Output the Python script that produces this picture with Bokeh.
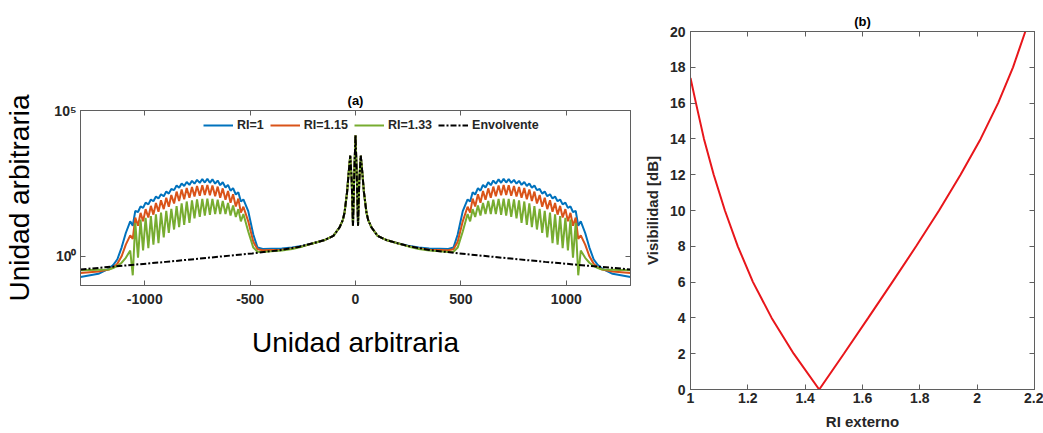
from bokeh.plotting import figure
from bokeh.layouts import row, column
from bokeh.models import Range1d, FixedTicker, LinearAxis, LogAxis, Legend, LegendItem
from bokeh.embed import file_html
from bokeh.resources import INLINE

# ---------------- panel (a) data ----------------
series_labels = ["RI=1", "RI=1.15", "RI=1.33", "Envolvente"]
series_colors = ["#0072BD", "#D95319", "#77AC30", "#000000"]

# envelope, right half (mirrored for x<0), values as log10
env_x = [0, 6, 12, 18, 25, 32, 40, 52, 60, 75, 105, 150, 200,
         265, 350, 490, 700, 900, 1100, 1305]
env_log10 = [4.15, 2.8, 1.05, 2.6, 3.45, 2.9, 2.2, 1.5, 1.25, 1.0, 0.7, 0.55, 0.45,
             0.33, 0.22, 0.1, -0.05, -0.19, -0.32, -0.45]
shared_center = 13  # the coloured curves follow the envelope up to x=200

# lobe vertices (right half), peaks and troughs alternate inside the lobe
lobe_x = [250, 300, 350, 400, 440, 465, 485, 509,
          532, 544, 556, 568, 581, 593, 605, 617, 630, 642, 654, 666, 679, 691,
          703, 715, 727, 739, 752, 764, 776, 788, 801, 813, 825, 837, 849, 861,
          874, 886, 898, 910, 923, 935, 947, 959, 971, 983, 996, 1008, 1020, 1032,
          1045, 1057, 1069,
          1090, 1110, 1130, 1150, 1170, 1220, 1305]

ri1_log10 = [0.36, 0.30, 0.27, 0.26, 0.25, 0.30, 0.75, 1.55,
             1.95, 1.88, 2.20, 2.12, 2.34, 2.25, 2.45, 2.36, 2.54, 2.44, 2.60, 2.49, 2.64, 2.52,
             2.66, 2.53, 2.65, 2.52, 2.62, 2.49, 2.59, 2.45, 2.55, 2.41, 2.50, 2.35, 2.43, 2.27,
             2.31, 2.15, 2.22, 2.06, 2.13, 1.98, 2.05, 1.89, 1.95, 1.78, 1.84, 1.66, 1.71, 1.52,
             1.56, 1.05, 1.20,
             0.80, 0.30, -0.10, -0.30, -0.42, -0.60, -0.71]

ri115_log10 = [0.35, 0.27, 0.23, 0.22, 0.21, 0.24, 0.50, 1.20,
               1.70, 1.50, 1.98, 1.71, 2.13, 1.84, 2.24, 1.94, 2.33, 2.01, 2.39, 2.06, 2.43, 2.09,
               2.45, 2.10, 2.44, 2.08, 2.41, 2.05, 2.38, 2.01, 2.34, 1.96, 2.29, 1.90, 2.22, 1.81,
               2.10, 1.70, 2.01, 1.62, 1.92, 1.53, 1.83, 1.43, 1.73, 1.33, 1.62, 1.20, 1.49, 1.05,
               1.33, 0.60, 0.72,
               0.40, 0.00, -0.25, -0.38, -0.45, -0.52, -0.57]

ri133_log10 = [0.34, 0.25, 0.20, 0.17, 0.15, 0.16, 0.30, 0.85,
               1.45, 1.20, 1.62, 1.35, 1.74, 1.40, 1.83, 1.45, 1.90, 1.45, 1.94, 1.45, 1.97, 1.42,
               1.98, 1.40, 1.97, 1.35, 1.95, 1.30, 1.92, 1.15, 1.88, 1.08, 1.82, 1.00, 1.72, 0.92,
               1.63, 0.80, 1.56, 0.65, 1.50, 0.45, 1.44, 0.40, 1.38, 0.28, 1.32, 0.20, 1.26, -0.05,
               1.15, -0.65, 0.20,
               -0.05, -0.22, -0.33, -0.40, -0.45, -0.46, -0.48]

xticks_a = [-1000, -500, 0, 500, 1000]
xtick_labels_a = ["-1000", "-500", "0", "500", "1000"]
yticks_a = [1, 100000]
ytick_labels_a = ["10\u2070", "10\u2075"]

# ---------------- panel (b) data ----------------
ri_ext = [1.0, 1.019, 1.047, 1.081, 1.12, 1.165, 1.218, 1.283, 1.36, 1.449,
          1.535, 1.62, 1.704, 1.787, 1.867, 1.942, 2.012, 2.073, 2.125, 2.168]
visibilidad_db = [17.4, 16.0, 14.0, 12.0, 10.0, 8.0, 6.0, 4.0, 2.0, 0.0,
                  2.0, 4.0, 6.0, 8.0, 10.0, 12.0, 14.0, 16.0, 18.0, 20.0]
xticks_b = [1, 1.2, 1.4, 1.6, 1.8, 2, 2.2]
xtick_labels_b = ["1", "1.2", "1.4", "1.6", "1.8", "2", "2.2"]
yticks_b = [0, 2, 4, 6, 8, 10, 12, 14, 16, 18, 20]
ytick_labels_b = [str(v) for v in yticks_b]

FONT = "Liberation Sans"
AXIS_COLOR = "#5f5f5f"
TEXT_COLOR = "#262626"


def mirror(half_x, half_y):
    xs = [-v for v in reversed(half_x[1:])] + list(half_x)
    ys = list(reversed(half_y[1:])) + list(half_y)
    return xs, ys


def style_axis(ax, labels=True, size="14px"):
    ax.axis_line_color = AXIS_COLOR
    ax.axis_line_width = 1
    ax.major_tick_line_color = AXIS_COLOR
    ax.major_tick_in = 5
    ax.major_tick_out = 0
    ax.minor_tick_line_color = None
    ax.major_label_text_font = FONT
    ax.major_label_text_font_style = "bold"
    ax.major_label_text_color = TEXT_COLOR
    ax.major_label_text_font_size = size
    if not labels:
        ax.major_label_text_font_size = "2px"
        ax.major_label_text_color = None
        ax.major_label_standoff = 0


# ---------------- figure (a) ----------------
p1 = figure(width=640, height=433, x_range=Range1d(-1305, 1305), y_range=Range1d(0.1, 1e5),
            y_axis_type="log", output_backend="svg", toolbar_location=None,
            min_border_left=80, min_border_right=10, min_border_top=110, min_border_bottom=148,
            title="(a)")
p1.grid.visible = False
p1.outline_line_color = AXIS_COLOR
p1.title.align = "center"
p1.title.text_font = FONT
p1.title.text_font_size = "13px"
p1.title.text_font_style = "bold"
p1.title.text_color = "#000000"
p1.title.standoff = 5

renderers = []
for lab, col, vals in zip(series_labels[:3], series_colors[:3], [ri1_log10, ri115_log10, ri133_log10]):
    hx = env_x[:shared_center] + lobe_x
    hy = env_log10[:shared_center] + vals
    xs, ys = mirror(hx, hy)
    r = p1.line(xs, [10 ** v for v in ys], line_color=col, line_width=2)
    renderers.append(r)
ex, ey = mirror(env_x, env_log10)
r_env = p1.line(ex, [10 ** v for v in ey], line_color=series_colors[3], line_width=2,
                line_dash="6 2 2 2")
renderers.append(r_env)

p1.xaxis.ticker = FixedTicker(ticks=xticks_a)
p1.xaxis.major_label_overrides = dict(zip(xticks_a, xtick_labels_a))
p1.yaxis.ticker = FixedTicker(ticks=yticks_a)
p1.yaxis.major_label_overrides = dict(zip(yticks_a, ytick_labels_a))
style_axis(p1.xaxis[0])
style_axis(p1.yaxis[0])
p1.xaxis.major_label_standoff = 8
p1.yaxis.major_label_standoff = 4
p1.xaxis.axis_label = "Unidad arbitraria"
p1.yaxis.axis_label = "Unidad arbitraria"
for ax in (p1.xaxis[0], p1.yaxis[0]):
    ax.axis_label_text_font = FONT
    ax.axis_label_text_font_style = "normal"
    ax.axis_label_text_font_size = "28px"
    ax.axis_label_text_color = "#000000"
p1.xaxis.axis_label_standoff = 20
p1.yaxis.axis_label_standoff = 16

top_a = LinearAxis(ticker=FixedTicker(ticks=xticks_a))
style_axis(top_a, labels=False)
p1.add_layout(top_a, "above")
right_a = LogAxis(ticker=FixedTicker(ticks=yticks_a))
style_axis(right_a, labels=False)
p1.add_layout(right_a, "right")

legend = Legend(items=[LegendItem(label=l, renderers=[r]) for l, r in zip(series_labels, renderers)],
                orientation="horizontal", location=(121, 151), glyph_width=30, glyph_height=14,
                label_standoff=4, spacing=6, padding=2, margin=0,
                border_line_alpha=0, background_fill_alpha=0,
                label_text_font=FONT, label_text_font_style="bold", label_text_font_size="12.5px",
                label_text_color=TEXT_COLOR)
p1.add_layout(legend)

# ---------------- figure (b) ----------------
p2 = figure(width=403, height=433, x_range=Range1d(1, 2.2), y_range=Range1d(0, 20),
            output_backend="svg", toolbar_location=None,
            min_border_left=50, min_border_right=9, min_border_top=31, min_border_bottom=44,
            title="(b)")
p2.grid.visible = False
p2.outline_line_color = AXIS_COLOR
p2.title.align = "center"
p2.title.text_font = FONT
p2.title.text_font_size = "13px"
p2.title.text_font_style = "bold"
p2.title.text_color = "#000000"
p2.title.standoff = 6

p2.line(ri_ext, visibilidad_db, line_color="#E8161B", line_width=2)

p2.xaxis.ticker = FixedTicker(ticks=xticks_b)
p2.xaxis.major_label_overrides = dict(zip(xticks_b, xtick_labels_b))
p2.yaxis.ticker = FixedTicker(ticks=yticks_b)
p2.yaxis.major_label_overrides = dict(zip(yticks_b, ytick_labels_b))
style_axis(p2.xaxis[0])
style_axis(p2.yaxis[0])
p2.xaxis.major_label_standoff = 3
p2.yaxis.major_label_standoff = 5
p2.xaxis.axis_label = "RI externo"
p2.yaxis.axis_label = "Visibilidad [dB]"
for ax in (p2.xaxis[0], p2.yaxis[0]):
    ax.axis_label_text_font = FONT
    ax.axis_label_text_font_style = "bold"
    ax.axis_label_text_font_size = "15px"
    ax.axis_label_text_color = TEXT_COLOR
p2.xaxis.axis_label_standoff = 7
p2.yaxis.axis_label_standoff = 6

top_b = LinearAxis(ticker=FixedTicker(ticks=xticks_b))
style_axis(top_b, labels=False)
p2.add_layout(top_b, "above")
right_b = LinearAxis(ticker=FixedTicker(ticks=yticks_b))
style_axis(right_b, labels=False)
p2.add_layout(right_b, "right")

layout = row(column(p1), column(p2))
open("out.html", "w").write(file_html(layout, INLINE))
